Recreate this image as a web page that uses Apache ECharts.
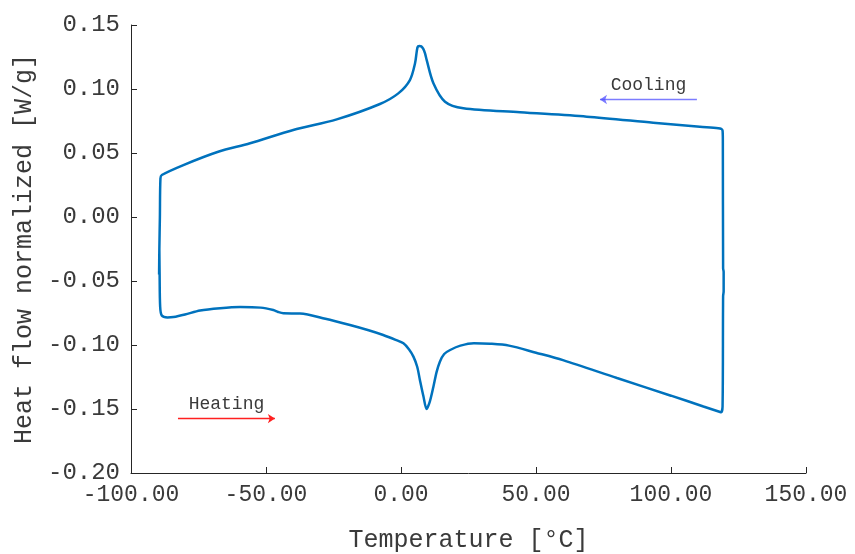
<!DOCTYPE html>
<html>
<head>
<meta charset="utf-8">
<script src="https://cdn.jsdelivr.net/npm/echarts@6/dist/echarts.min.js"></script>
<style>
  html, body { margin: 0; padding: 0; background: #fff; }
  #chart { width: 855px; height: 554px; }
</style>
</head>
<body>
<div id="chart"></div>
<script>
// heating run, left to right (temperature, heat flow)
var heatT = [-89.5, -89.4, -89.2, -88.6, -86.5, -84.3, -80, -74.4, -67, -59.6, -52, -47.3, -45.5, -43.6, -37.4, -28, -18.9, -12, -6.6, -2, 0.9, 3, 4.6, 6, 7.0, 8.3, 9.5, 10.7, 12.0, 13.2, 14.4, 16, 18.2, 22, 27, 33, 40, 50, 60, 80, 100, 112, 118.2]
var heatQ = [-0.025, -0.045, -0.070, -0.0770, -0.0785, -0.0782, -0.0762, -0.0730, -0.0712, -0.0703, -0.0708, -0.0727, -0.0742, -0.0752, -0.0754, -0.0795, -0.0844, -0.0885, -0.0922, -0.0960, -0.0987, -0.1035, -0.1091, -0.1170, -0.1273, -0.1400, -0.1500, -0.1440, -0.1326, -0.1210, -0.1130, -0.1070, -0.1039, -0.1005, -0.0986, -0.0990, -0.1005, -0.1060, -0.1118, -0.1258, -0.1396, -0.1480, -0.1523]

// switch at the hot end
var hotT = [118.6, 119.1, 119.3, 119.5, 119.5, 119.3, 119.2, 119.1, 118.6]
var hotQ = [-0.1525, -0.1480, -0.0620, -0.0580, -0.0430, -0.0400, 0.0600, 0.0675, 0.0688]

// cooling run, right to left
var coolT = [117.5, 110.7, 93.4, 68.8, 44.1, 23.1, 16.3, 12.0, 9.5, 8.9, 8.2, 7.5, 6.8, 6.1, 5.2, 3.3, -1.0, -7.8, -23.8, -39.9, -55.9, -67.7, -80.6, -88.6, -89.1, -89.3, -89.5, -89.6]
var coolQ = [0.0693, 0.0705, 0.0737, 0.0784, 0.0818, 0.0849, 0.0901, 0.1045, 0.1227, 0.1279, 0.1315, 0.1333, 0.1336, 0.1325, 0.1201, 0.1070, 0.0966, 0.0883, 0.0763, 0.0680, 0.0576, 0.0510, 0.0406, 0.0328, 0.0300, 0.0000, -0.0250, -0.0450]

var xTicks = { min: -100, max: 150, step: 50 }
var yTicks = { min: -0.2, max: 0.15, step: 0.05 }

// arrows: [fromT, toT, heat flow, label]
var coolArrow = [109.6, 73.7, 0.0918, 'Cooling']
var heatArrow = [-82.6, -46.7, -0.1575, 'Heating']

function zip(a, b) {
  return a.map(function (v, i) { return [v, b[i]] })
}

var loop = zip(heatT, heatQ).concat(zip(hotT, hotQ), zip(coolT, coolQ))

var FONT = "'Courier New', 'Liberation Mono', monospace"
var TXT = '#3a3a3a'

function arrow(a, lineColor, headColor) {
  return {
    type: 'line',
    data: [],
    silent: true,
    markLine: {
      silent: true,
      animation: false,
      symbol: ['none', 'arrow'],
      symbolSize: [7, 7],
      lineStyle: { color: lineColor, type: 'solid', width: 1.3 },
      itemStyle: { color: headColor },
      label: {
        show: true,
        position: 'middle',
        formatter: a[3],
        color: TXT,
        fontFamily: FONT,
        fontSize: 18,
        distance: 5
      },
      emphasis: { disabled: true },
      data: [[{ coord: [a[0], a[2]] }, { coord: [a[1], a[2]] }]]
    }
  }
}

var chart = echarts.init(document.getElementById('chart'))
chart.setOption({
  animation: false,
  backgroundColor: '#fff',
  grid: { left: 131, right: 49, top: 25, bottom: 81, containLabel: false, outerBoundsMode: 'none' },
  xAxis: {
    type: 'value',
    min: xTicks.min,
    max: xTicks.max,
    interval: xTicks.step,
    name: 'Temperature [°C]',
    nameLocation: 'middle',
    nameGap: 55,
    nameTextStyle: { fontFamily: FONT, fontSize: 25, color: TXT },
    axisLine: { show: true, onZero: false, lineStyle: { color: '#262626', width: 1 } },
    axisTick: { show: true, inside: true, length: 6, lineStyle: { color: '#262626' } },
    axisLabel: {
      margin: 10,
      fontFamily: FONT,
      fontSize: 23,
      color: TXT,
      formatter: function (v) { return v.toFixed(2) }
    },
    splitLine: { show: false }
  },
  yAxis: {
    type: 'value',
    min: yTicks.min,
    max: yTicks.max,
    interval: yTicks.step,
    name: 'Heat flow normalized [W/g]',
    nameLocation: 'middle',
    nameGap: 93,
    nameTextStyle: { fontFamily: FONT, fontSize: 25, color: TXT },
    axisLine: { show: true, onZero: false, lineStyle: { color: '#262626', width: 1 } },
    axisTick: { show: true, inside: true, length: 6, lineStyle: { color: '#262626' } },
    axisLabel: {
      margin: 11,
      fontFamily: FONT,
      fontSize: 24,
      color: TXT,
      formatter: function (v) { return v.toFixed(2) }
    },
    splitLine: { show: false }
  },
  series: [
    {
      type: 'line',
      data: loop,
      showSymbol: false,
      smooth: 0.3,
      lineStyle: { color: '#0072BD', width: 2.5 },
      itemStyle: { color: '#0072BD' }
    },
    arrow(coolArrow, 'rgba(80,80,255,0.75)', '#1010ee'),
    arrow(heatArrow, '#ff2020', '#ff0000')
  ]
})
</script>
</body>
</html>
